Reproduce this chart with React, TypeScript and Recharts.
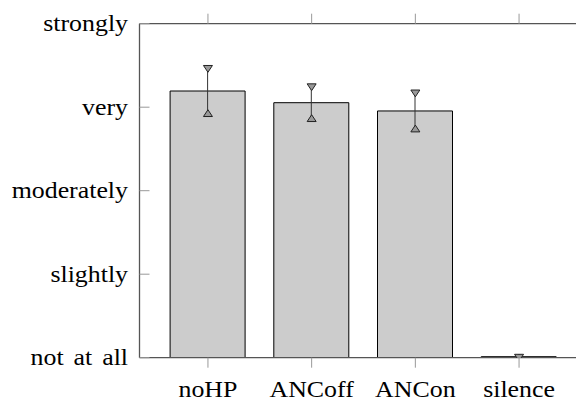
import React from 'react';
import { ComposedChart, Bar, Line, XAxis, YAxis, ErrorBar } from 'recharts';

const categories = ['noHP', 'ANCoff', 'ANCon', 'silence'];
const means = [3.194, 3.054, 2.955, 0];
const errors = [0.265, 0.185, 0.21, 0];
const levelLabels = ['not at all', 'slightly', 'moderately', 'very', 'strongly'];
const levelTicks = [0, 1, 2, 3, 4];

const data = categories.map((c, i) => ({
  name: c,
  mean: means[i],
  err: errors[i],
  hi: means[i] + errors[i],
  lo: means[i] - errors[i],
}));

const FONT = 'Liberation Serif';
const SX = 1.15;

const XTick = (props: any) => {
  const { x, y, payload } = props;
  return (
    <g transform={`translate(${x},${y})`}>
      <text transform={`scale(${SX},1)`} textAnchor="middle" dy="0.74em" fontSize={22.5} fontFamily={FONT} fill="#000">
        {payload.value}
      </text>
    </g>
  );
};

const YTick = (props: any) => {
  const { x, y, payload } = props;
  const label = levelLabels[levelTicks.indexOf(payload.value)] ?? '';
  return (
    <g transform={`translate(${x},${y})`}>
      <text transform={`scale(${SX},1)`} textAnchor="end" dy="0.33em" fontSize={22.5} fontFamily={FONT} fill="#000" wordSpacing={3}>
        {label}
      </text>
    </g>
  );
};

const NoTick = () => null;

const TriDown = (p: any) => {
  const { cx, cy } = p;
  if (cx == null || cy == null) return null;
  return (
    <polygon
      points={`${cx - 4.5},${cy - 3.4} ${cx + 4.5},${cy - 3.4} ${cx},${cy + 3.4}`}
      fill="#999999"
      stroke="#222"
      strokeWidth={1}
    />
  );
};

const TriUp = (p: any) => {
  const { cx, cy } = p;
  if (cx == null || cy == null) return null;
  return (
    <polygon
      points={`${cx - 4.5},${cy + 3.4} ${cx + 4.5},${cy + 3.4} ${cx},${cy - 3.4}`}
      fill="#999999"
      stroke="#222"
      strokeWidth={1}
    />
  );
};

const axisLine = { stroke: '#555', strokeWidth: 1.3 };
const tickLine = { stroke: '#999', strokeWidth: 1 };

export default function App() {
  return (
    <div style={{ width: 576, height: 392, overflow: 'hidden' }}>
      <ComposedChart
        width={600}
        height={392}
        data={data}
        margin={{ top: 0, right: 0, bottom: 0, left: 0 }}
        barSize={75}
      >
        <XAxis
          dataKey="name"
          xAxisId="bottom"
          orientation="bottom"
          height={42.3}
          padding={{ left: 16.6, right: 16.6 }}
          axisLine={axisLine}
          tickLine={tickLine}
          tickSize={10}
          tickMargin={12.5}
          tick={<XTick />}
          interval={0}
        />
        <XAxis
          dataKey="name"
          xAxisId="top"
          orientation="top"
          height={15.7}
          padding={{ left: 16.6, right: 16.6 }}
          axisLine={axisLine}
          tickLine={tickLine}
          tickSize={10}
          tick={NoTick}
          interval={0}
        />
        <YAxis
          yAxisId="left"
          orientation="left"
          width={131.5}
          domain={[0, 4]}
          allowDataOverflow
          ticks={levelTicks}
          axisLine={axisLine}
          tickLine={tickLine}
          tickSize={-10}
          tickMargin={21.5}
          tick={<YTick />}
          interval={0}
        />
        <YAxis
          yAxisId="right"
          orientation="right"
          width={20.5}
          domain={[0, 4]}
          ticks={levelTicks}
          axisLine={axisLine}
          tickLine={tickLine}
          tickSize={-10}
          tick={NoTick}
          interval={0}
        />
        <Bar
          dataKey="mean"
          xAxisId="bottom"
          yAxisId="left"
          fill="#cccccc"
          stroke="#000"
          strokeWidth={1}
          minPointSize={1}
          isAnimationActive={false}
        >
          <ErrorBar dataKey="err" width={0} stroke="#333" strokeWidth={1} />
        </Bar>
        <Line
          dataKey="lo"
          xAxisId="bottom"
          yAxisId="left"
          stroke="none"
          dot={<TriUp r={0} strokeWidth={0} />}
          activeDot={false}
          isAnimationActive={false}
        />
        <Line
          dataKey="hi"
          xAxisId="bottom"
          yAxisId="left"
          stroke="none"
          dot={<TriDown r={0} strokeWidth={0} />}
          activeDot={false}
          isAnimationActive={false}
        />
      </ComposedChart>
    </div>
  );
}
